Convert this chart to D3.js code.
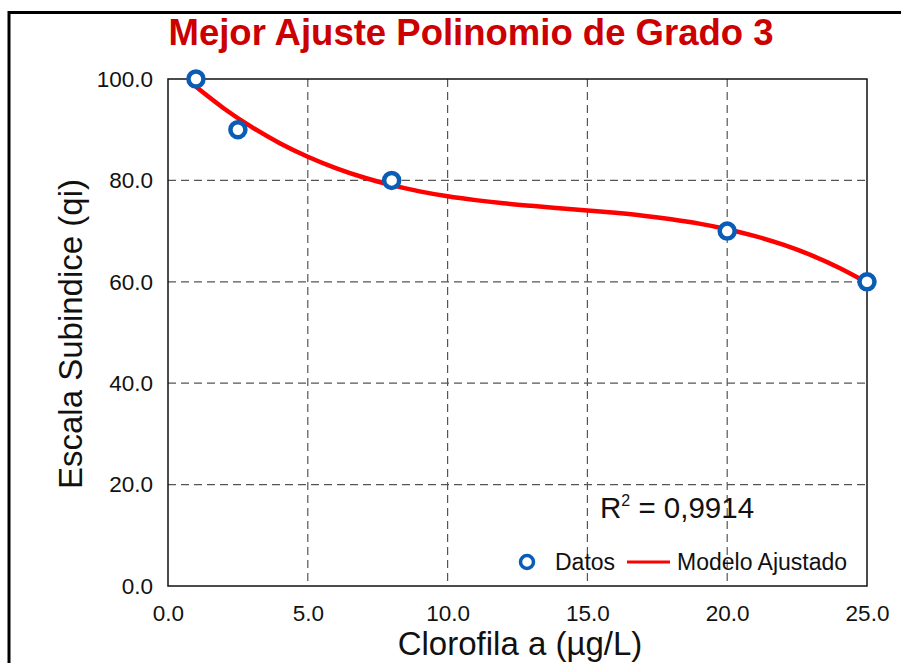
<!DOCTYPE html>
<html>
<head>
<meta charset="utf-8">
<script src="https://cdn.jsdelivr.net/npm/d3@7"></script>
<style>
  body { margin: 0; background: #fff; }
  text { font-family: "Liberation Sans", Arial, sans-serif; }
</style>
</head>
<body>
<div id="chart"></div>
<script>
// Datos medidos
const datosX = [1, 2.5, 8, 20, 25];
const datosY = [100, 90, 80, 70, 60];

const modeloX = [1, 2, 3, 4, 5, 6, 7, 8, 9, 10, 11, 12, 13, 14, 15, 16, 17, 18, 19, 20, 21, 22, 23, 24, 25];
const modeloY = [98.46, 94.19, 90.50, 87.34, 84.66, 82.42, 80.57, 79.06, 77.84, 76.87, 76.11, 75.49, 74.98,
                 74.52, 74.08, 73.60, 73.04, 72.34, 71.47, 70.37, 69.00, 67.31, 65.25, 62.78, 59.84];

// Ticks
const xTicks = [0, 5, 10, 15, 20, 25];
const yTicks = [0, 20, 40, 60, 80, 100];

const width = 901;
const height = 663;
const margin = { top: 79, right: 34, bottom: 77, left: 168 };
const w = width - margin.left - margin.right;
const h = height - margin.top - margin.bottom;

const svg = d3.select("#chart")
    .append("svg")
    .attr("width", width)
    .attr("height", height);

// Marco exterior
svg.append("rect")
    .attr("x", 9).attr("y", 12.5)
    .attr("width", 960).attr("height", 700)
    .attr("fill", "none")
    .attr("stroke", "#000")
    .attr("stroke-width", 3);

svg.append("text")
    .attr("x", 471)
    .attr("y", 45)
    .attr("text-anchor", "middle")
    .attr("font-size", 36.5)
    .attr("font-weight", "bold")
    .attr("fill", "#cc0000")
    .text("Mejor Ajuste Polinomio de Grado 3");

const g = svg.append("g")
    .attr("transform", `translate(${margin.left},${margin.top})`);

const x = d3.scaleLinear().domain([0, 25]).range([0, w]);
const y = d3.scaleLinear().domain([0, 100]).range([h, 0]);

// Rejilla
g.append("g")
    .selectAll("line")
    .data(xTicks.slice(1, -1))
    .join("line")
    .attr("x1", d => x(d)).attr("x2", d => x(d))
    .attr("y1", 0).attr("y2", h)
    .attr("stroke", "#555")
    .attr("stroke-width", 1.2)
    .attr("stroke-dasharray", "8,5");

g.append("g")
    .selectAll("line")
    .data(yTicks.slice(1, -1))
    .join("line")
    .attr("x1", 0).attr("x2", w)
    .attr("y1", d => y(d)).attr("y2", d => y(d))
    .attr("stroke", "#555")
    .attr("stroke-width", 1.2)
    .attr("stroke-dasharray", "8,5");

// Ejes
const xAxis = g.append("g")
    .attr("transform", `translate(0,${h})`)
    .call(d3.axisBottom(x).tickValues(xTicks).tickFormat(d3.format(".1f")).tickSize(0).tickPadding(10));
const yAxis = g.append("g")
    .call(d3.axisLeft(y).tickValues(yTicks).tickFormat(d3.format(".1f")).tickSize(0).tickPadding(15));

[xAxis, yAxis].forEach(a => {
    a.select(".domain").remove();
    a.selectAll("text")
        .attr("font-size", 22.5)
        .attr("font-family", "Liberation Sans, Arial, sans-serif")
        .attr("fill", "#111");
});
xAxis.selectAll("text").attr("dy", "0.71em").attr("y", 19);

// Caja
g.append("rect")
    .attr("width", w).attr("height", h)
    .attr("fill", "none")
    .attr("stroke", "#111")
    .attr("stroke-width", 1.5);

// Linea del modelo
const linea = d3.line()
    .x(d => x(d[0]))
    .y(d => y(d[1]))
    .curve(d3.curveMonotoneX);

g.append("path")
    .datum(d3.zip(modeloX, modeloY))
    .attr("d", linea)
    .attr("fill", "none")
    .attr("stroke", "#ff0000")
    .attr("stroke-width", 4.5);

// Puntos
g.selectAll(".punto")
    .data(d3.zip(datosX, datosY))
    .join("circle")
    .attr("class", "punto")
    .attr("cx", d => x(d[0]))
    .attr("cy", d => y(d[1]))
    .attr("r", 7.5)
    .attr("fill", "#fff")
    .attr("stroke", "#0a5cb4")
    .attr("stroke-width", 4.5);

// R cuadrado
const r2 = g.append("text")
    .attr("x", 432)
    .attr("y", 439)
    .attr("font-size", 29.5)
    .attr("fill", "#111");
r2.append("tspan").text("R");
r2.append("tspan").attr("font-size", 16).attr("dy", -12).text("2");
r2.append("tspan").attr("dy", 12).text(" = 0,9914");

// Leyenda
g.append("circle")
    .attr("cx", 359).attr("cy", 483)
    .attr("r", 6.5)
    .attr("fill", "#fff")
    .attr("stroke", "#0a5cb4")
    .attr("stroke-width", 3.5);
g.append("text")
    .attr("x", 387).attr("y", 491)
    .attr("font-size", 23)
    .attr("fill", "#111")
    .text("Datos");
g.append("line")
    .attr("x1", 459).attr("x2", 502)
    .attr("y1", 483).attr("y2", 483)
    .attr("stroke", "#ff0000")
    .attr("stroke-width", 3);
g.append("text")
    .attr("x", 509).attr("y", 491)
    .attr("font-size", 23)
    .attr("fill", "#111")
    .text("Modelo Ajustado");

// Titulos de ejes
svg.append("text")
    .attr("x", 520)
    .attr("y", 655)
    .attr("text-anchor", "middle")
    .attr("font-size", 33)
    .attr("fill", "#111")
    .text("Clorofila a (µg/L)");

svg.append("text")
    .attr("transform", "translate(82,334) rotate(-90)")
    .attr("text-anchor", "middle")
    .attr("font-size", 33)
    .attr("fill", "#111")
    .text("Escala Subindice (qi)");
</script>
</body>
</html>
